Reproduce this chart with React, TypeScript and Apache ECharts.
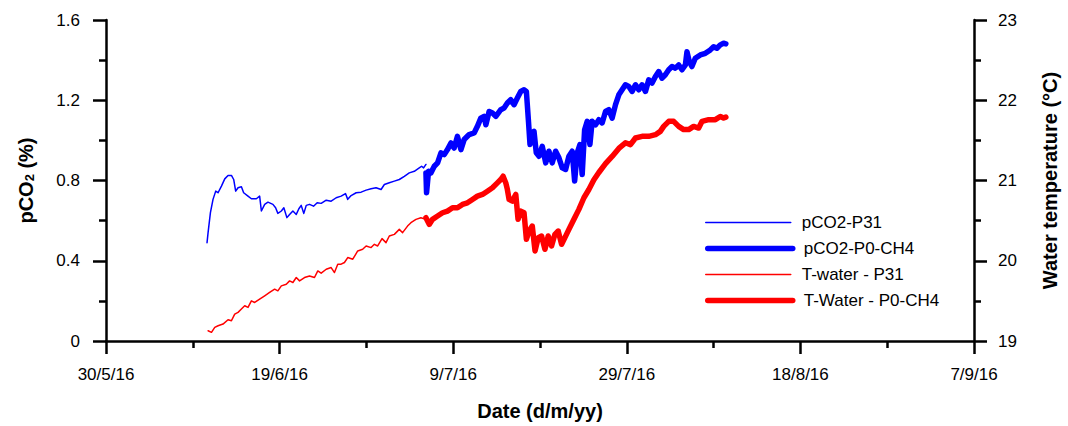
import React, { useEffect, useRef } from 'react';
import * as echarts from 'echarts';

// x values are days since 30/5/16
const xTickLabels = ['30/5/16', '19/6/16', '9/7/16', '29/7/16', '18/8/16', '7/9/16'];
const pco2TickLabels = ['0', '0.4', '0.8', '1.2', '1.6'];
const tempTickLabels = ['19', '20', '21', '22', '23'];
const seriesNames = ['pCO2-P31', 'pCO2-P0-CH4', 'T-water - P31', 'T-Water - P0-CH4'];

const pco2P31Days = [11.64, 11.76, 12.03, 12.33, 12.64, 12.91, 13.3, 13.68, 14.06, 14.45, 14.71, 14.94, 15.21, 15.6, 15.86, 16.36, 16.75, 17.32, 17.7, 17.9, 18.28, 18.66, 19.23, 19.54, 19.8, 20.2, 20.49, 20.84, 21.15, 21.53, 21.92, 22.22, 22.49, 22.79, 23.07, 23.45, 23.91, 24.33, 24.79, 25.37, 25.94, 26.52, 27.09, 27.59, 27.85, 28.24, 28.82, 29.39, 29.97, 30.54, 31.11, 31.69, 32.07, 32.64, 33.22, 33.79, 34.37, 34.94, 35.52, 36.09, 36.36, 36.59, 36.86];
const pco2P31 = [0.49, 0.54, 0.64, 0.706, 0.747, 0.739, 0.772, 0.808, 0.825, 0.825, 0.805, 0.747, 0.764, 0.769, 0.739, 0.722, 0.709, 0.709, 0.722, 0.648, 0.681, 0.692, 0.681, 0.664, 0.636, 0.648, 0.664, 0.615, 0.631, 0.648, 0.631, 0.659, 0.676, 0.636, 0.676, 0.681, 0.672, 0.689, 0.686, 0.702, 0.697, 0.714, 0.722, 0.735, 0.706, 0.725, 0.739, 0.742, 0.752, 0.759, 0.764, 0.755, 0.78, 0.789, 0.797, 0.805, 0.821, 0.838, 0.846, 0.863, 0.871, 0.863, 0.88];

const pco2P0Days = [36.86, 36.93, 37.16, 37.43, 37.82, 38.2, 38.59, 38.97, 39.34, 39.74, 40.11, 40.49, 40.89, 41.26, 41.84, 42.41, 42.79, 43.18, 43.56, 43.76, 44.14, 44.52, 44.91, 45.48, 45.86, 46.24, 46.63, 47.01, 47.39, 47.78, 48.16, 48.43, 48.66, 48.85, 49.11, 49.31, 49.57, 49.89, 50.26, 50.66, 51.03, 51.41, 51.8, 52.18, 52.56, 52.95, 53.33, 53.71, 53.99, 54.29, 54.6, 54.86, 55.14, 55.44, 55.75, 56.01, 56.4, 56.78, 57.16, 57.55, 57.93, 58.31, 58.7, 59.08, 59.46, 59.84, 60.23, 60.61, 61.0, 61.38, 61.76, 62.15, 62.53, 62.91, 63.3, 63.68, 64.06, 64.44, 64.83, 65.21, 65.6, 65.98, 66.36, 66.75, 66.93, 67.2, 67.5, 67.89, 68.47, 69.05, 69.62, 70.0, 70.38, 70.77, 71.15, 71.41];
const pco2P0 = [0.838, 0.739, 0.846, 0.838, 0.871, 0.888, 0.938, 0.929, 0.954, 0.987, 0.962, 1.02, 0.954, 1.004, 1.029, 1.037, 1.07, 1.111, 1.12, 1.078, 1.144, 1.136, 1.12, 1.153, 1.161, 1.186, 1.203, 1.178, 1.211, 1.244, 1.252, 1.244, 1.103, 0.979, 1.037, 1.045, 0.938, 0.921, 0.97, 0.888, 0.946, 0.888, 0.946, 0.913, 0.863, 0.855, 0.921, 0.946, 0.797, 0.938, 0.979, 0.83, 1.053, 1.095, 0.979, 1.095, 1.078, 1.103, 1.087, 1.144, 1.153, 1.111, 1.178, 1.227, 1.252, 1.277, 1.269, 1.244, 1.277, 1.252, 1.277, 1.244, 1.302, 1.286, 1.318, 1.343, 1.31, 1.327, 1.352, 1.368, 1.36, 1.376, 1.352, 1.376, 1.442, 1.393, 1.368, 1.409, 1.426, 1.434, 1.451, 1.467, 1.459, 1.476, 1.484, 1.481];

const tempP31Days = [11.76, 12.15, 12.53, 12.91, 13.48, 14.06, 14.45, 14.83, 15.21, 15.6, 15.98, 16.36, 16.75, 17.13, 17.7, 18.28, 18.85, 19.43, 19.8, 20.2, 20.77, 21.15, 21.53, 21.92, 22.3, 22.87, 23.45, 24.02, 24.4, 24.79, 25.37, 25.94, 26.32, 26.7, 27.09, 27.47, 27.85, 28.43, 29.0, 29.57, 29.97, 30.54, 30.92, 31.3, 31.8, 32.26, 32.64, 33.22, 33.79, 34.17, 34.74, 35.13, 35.71, 36.28, 36.86];
const tempP31 = [19.128, 19.108, 19.17, 19.19, 19.211, 19.265, 19.252, 19.335, 19.357, 19.398, 19.439, 19.418, 19.5, 19.48, 19.522, 19.563, 19.605, 19.646, 19.625, 19.687, 19.708, 19.749, 19.729, 19.791, 19.749, 19.791, 19.811, 19.791, 19.873, 19.845, 19.894, 19.915, 19.853, 19.957, 19.957, 19.978, 20.04, 20.019, 20.122, 20.143, 20.184, 20.164, 20.205, 20.184, 20.276, 20.226, 20.308, 20.329, 20.391, 20.35, 20.432, 20.474, 20.516, 20.536, 20.516];

const tempP0Days = [36.86, 37.24, 37.62, 38.2, 38.77, 39.34, 39.92, 40.49, 41.07, 41.64, 42.22, 42.79, 43.37, 43.94, 44.52, 45.09, 45.48, 45.75, 46.06, 46.24, 46.44, 46.81, 47.21, 47.47, 47.78, 48.16, 48.43, 48.74, 49.11, 49.43, 49.8, 50.18, 50.57, 50.95, 51.33, 51.72, 52.1, 52.49, 52.87, 53.33, 53.91, 54.48, 55.06, 55.63, 56.21, 56.78, 57.55, 58.31, 59.08, 59.84, 60.42, 61.0, 61.76, 62.53, 63.3, 63.86, 64.25, 64.83, 65.4, 65.98, 66.55, 67.13, 67.7, 68.28, 68.67, 69.43, 70.2, 70.77, 71.15, 71.41];
const tempP0 = [20.536, 20.453, 20.516, 20.557, 20.598, 20.619, 20.66, 20.66, 20.702, 20.722, 20.764, 20.805, 20.826, 20.867, 20.909, 20.97, 21.012, 21.053, 20.97, 20.888, 20.764, 20.743, 20.826, 20.516, 20.619, 20.598, 20.267, 20.37, 20.432, 20.122, 20.288, 20.308, 20.143, 20.308, 20.184, 20.329, 20.37, 20.205, 20.288, 20.391, 20.516, 20.64, 20.785, 20.888, 21.01, 21.1, 21.21, 21.3, 21.4, 21.47, 21.447, 21.53, 21.55, 21.55, 21.571, 21.612, 21.674, 21.737, 21.737, 21.674, 21.634, 21.634, 21.674, 21.654, 21.737, 21.758, 21.758, 21.798, 21.778, 21.79];

const FONT = "'Liberation Sans', Arial, sans-serif";
const zip = (xs: number[], ys: number[]) => xs.map((x, i) => [x, ys[i]]);

export default function App() {
  const ref = useRef<HTMLDivElement>(null);
  useEffect(() => {
    if (!ref.current) return;
    const chart = echarts.init(ref.current, undefined, { renderer: 'svg' });
    const axisLine = { show: true, onZero: false, lineStyle: { color: '#000', width: 2.5 } };
    const axisTick = { show: true, inside: false, length: 13, lineStyle: { width: 2.5, color: '#000' } };
    const minorTick = { show: true, splitNumber: 2, length: 7, lineStyle: { width: 2.5, color: '#000' } };
    const lineSeries = (name: string, data: number[][], yIdx: number, color: string, width: number, z: number) => ({
      name,
      type: 'line',
      yAxisIndex: yIdx,
      data,
      symbol: 'none',
      showSymbol: false,
      legendIcon: 'none',
      z,
      lineStyle: { color, width, cap: 'round', join: 'round' },
      itemStyle: { color },
    });
    chart.setOption({
      animation: false,
      backgroundColor: '#fff',
      grid: { left: 106, right: 91, top: 20, bottom: 84, containLabel: false },
      legend: seriesNames.map((n, i) => ({
        data: [n],
        left: 705,
        top: 214 + i * 26,
        padding: 0,
        itemWidth: 85,
        itemHeight: 14,
        itemStyle: { opacity: 0 },
        textStyle: { fontSize: 17, fontFamily: FONT, color: '#000', padding: [0, 0, 0, 6] },
        lineStyle: { width: i % 2 === 0 ? 1.5 : 5.5, cap: 'round' },
        selectedMode: false,
      })),
      xAxis: {
        type: 'value',
        min: 0,
        max: 100,
        interval: 20,
        name: 'Date (d/m/yy)',
        nameLocation: 'middle',
        nameGap: 60,
        nameTextStyle: { fontSize: 20, fontWeight: 'bold', fontFamily: FONT, color: '#000' },
        axisLine,
        axisTick,
        minorTick,
        splitLine: { show: false },
        axisLabel: {
          margin: 25,
          fontSize: 17,
          fontFamily: FONT,
          color: '#000',
          formatter: (v: number) => xTickLabels[Math.round(v / 20)] ?? '',
        },
      },
      yAxis: [
        {
          type: 'value',
          position: 'left',
          min: 0,
          max: 1.6,
          interval: 0.4,
          name: '{a|pCO}{s|2}{a| (%)}',
          nameLocation: 'middle',
          nameRotate: 90,
          nameGap: 70,
          nameTextStyle: {
            fontFamily: FONT,
            color: '#000',
            rich: {
              a: { fontSize: 20, fontWeight: 'bold', fontFamily: FONT, color: '#000' },
              s: { fontSize: 13, fontWeight: 'bold', fontFamily: FONT, color: '#000', verticalAlign: 'bottom', padding: [8, 0, 0, 0] },
            },
          },
          axisLine,
          axisTick,
          minorTick,
          splitLine: { show: false },
          axisLabel: {
            margin: 26,
            fontSize: 17,
            fontFamily: FONT,
            color: '#000',
            formatter: (v: number) => pco2TickLabels[Math.round(v / 0.4)] ?? '',
          },
        },
        {
          type: 'value',
          position: 'right',
          min: 19,
          max: 23,
          interval: 1,
          name: 'Water temperature (°C)',
          nameLocation: 'middle',
          nameRotate: 90,
          nameGap: 66,
          nameTextStyle: { fontSize: 20, fontWeight: 'bold', fontFamily: FONT, color: '#000' },
          axisLine,
          axisTick,
          minorTick,
          splitLine: { show: false },
          axisLabel: {
            margin: 24,
            fontSize: 17,
            fontFamily: FONT,
            color: '#000',
            formatter: (v: number) => tempTickLabels[Math.round(v - 19)] ?? '',
          },
        },
      ],
      series: [
        lineSeries(seriesNames[0], zip(pco2P31Days, pco2P31), 0, '#0000ff', 1.5, 3),
        lineSeries(seriesNames[1], zip(pco2P0Days, pco2P0), 0, '#0000ff', 5.5, 4),
        lineSeries(seriesNames[2], zip(tempP31Days, tempP31), 1, '#ff0000', 1.5, 3),
        lineSeries(seriesNames[3], zip(tempP0Days, tempP0), 1, '#ff0000', 5.5, 4),
      ],
    });
    return () => chart.dispose();
  }, []);
  return <div ref={ref} style={{ position: 'fixed', left: 0, top: 0, width: 1068, height: 426 }} />;
}
